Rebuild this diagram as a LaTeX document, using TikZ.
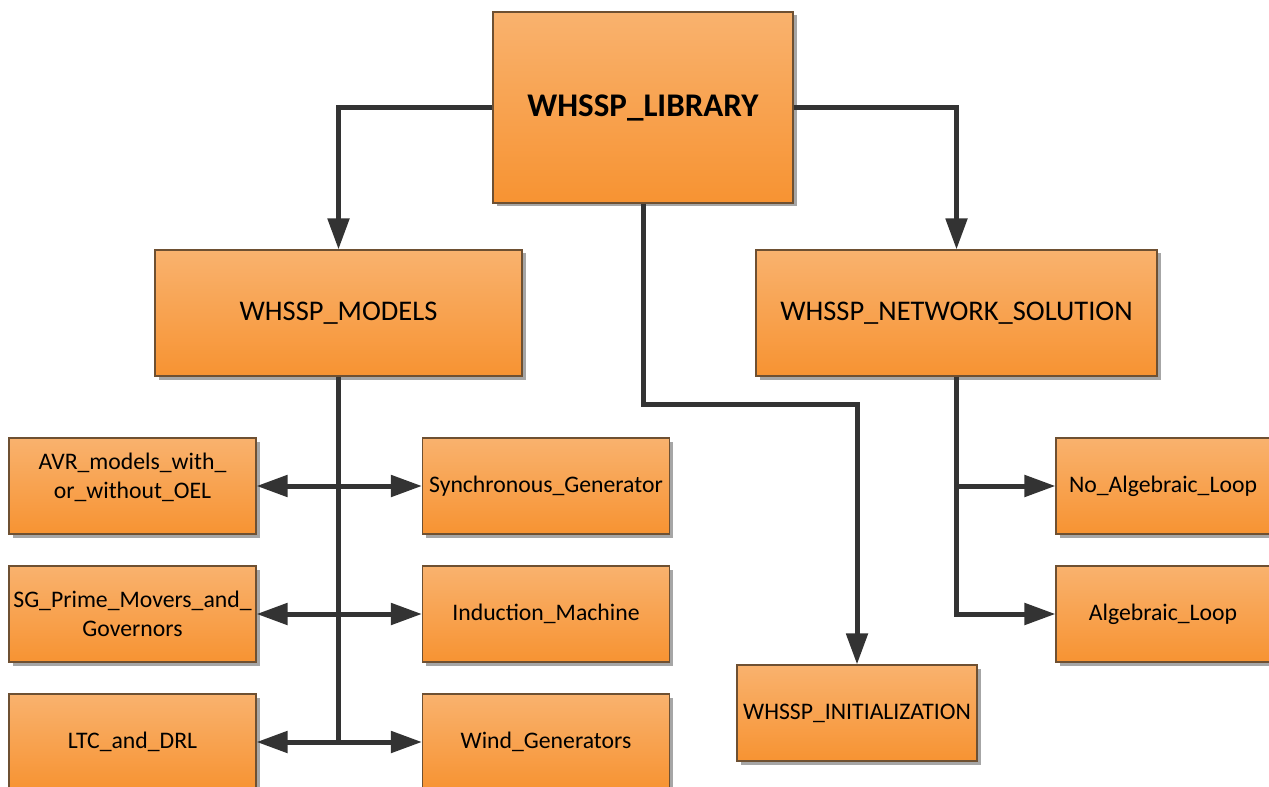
\documentclass[tikz,border=0pt]{standalone}
\usepackage{fontspec}
\setmainfont{Carlito}
\usetikzlibrary{arrows.meta,shadows}
\definecolor{boxtop}{RGB}{249,178,110}
\definecolor{boxbot}{RGB}{247,147,50}
\definecolor{boxline}{RGB}{110,80,50}
\definecolor{conn}{RGB}{51,51,51}
\begin{document}
\begin{tikzpicture}[b/.style={draw=boxline, line width=0.6pt, top color=boxtop, bottom color=boxbot, align=center, inner sep=2pt,
      font=\fontsize{13.5}{16.2}\selectfont, minimum width=4.94cm, minimum height=1.92cm,
      drop shadow={shadow xshift=0.07cm, shadow yshift=-0.07cm, fill=black!35, opacity=1}},
    big/.style={font=\fontsize{16.2}{19}\selectfont, minimum height=2.52cm},
    w/.style={line width=0.1cm, draw=conn},
    a/.style={w, -{Triangle[length=0.62cm,width=0.42cm]}},
    aa/.style={w, {Triangle[length=0.62cm,width=0.42cm]}-{Triangle[length=0.62cm,width=0.42cm]}}]
      \useasboundingbox (0,0) rectangle (25.38,-15.74);
      \node[b, minimum width=6cm, minimum height=3.82cm, font=\fontsize{18.8}{22}\selectfont\bfseries] (lib) at (12.86,-2.15) {WHSSP\_LIBRARY};
      \node[b, big, minimum width=7.34cm] (models) at (6.77,-6.26) {WHSSP\_MODELS};
      \node[b, big, minimum width=8.02cm] (net) at (19.13,-6.26) {WHSSP\_NETWORK\_SOLUTION};
      \node[b] (avr) at (2.65,-9.72) {AVR\_models\_with\_\\or\_without\_OEL\\[-4.8pt]};
      \node[b] (sg) at (2.65,-12.28) {SG\_Prime\_Movers\_and\_\\Governors};
      \node[b] (ltc) at (2.65,-14.84) {LTC\_and\_DRL};
      \node[b] (sync) at (10.92,-9.72) {Synchronous\_Generator};
      \node[b] (ind) at (10.92,-12.28) {Induction\_Machine};
      \node[b] (wind) at (10.92,-14.84) {Wind\_Generators};
      \node[b, minimum width=4.28cm] (noalg) at (23.26,-9.72) {No\_Algebraic\_Loop};
      \node[b, minimum width=4.28cm] (alg) at (23.26,-12.28) {Algebraic\_Loop};
      \node[b, minimum width=4.8cm] (init) at (17.14,-14.26) {WHSSP\_INITIALIZATION};
      \coordinate (initbus) at (17.14,-8.08);
      \draw[a] (lib.west) -| (models.north);
      \draw[a] (lib.east) -| (net.north);
      \draw[a] (lib.south) |- (initbus) -- (init.north);
      \draw[w] (models.south) -- (models.south |- ltc.east);
      \draw[aa] (avr.east) -- (sync.west);
      \draw[aa] (sg.east) -- (ind.west);
      \draw[aa] (ltc.east) -- (wind.west);
      \draw[a] (net.south) |- (alg.west);
      \draw[a] (net.south |- noalg.west) -- (noalg.west);
\end{tikzpicture}
\end{document}
